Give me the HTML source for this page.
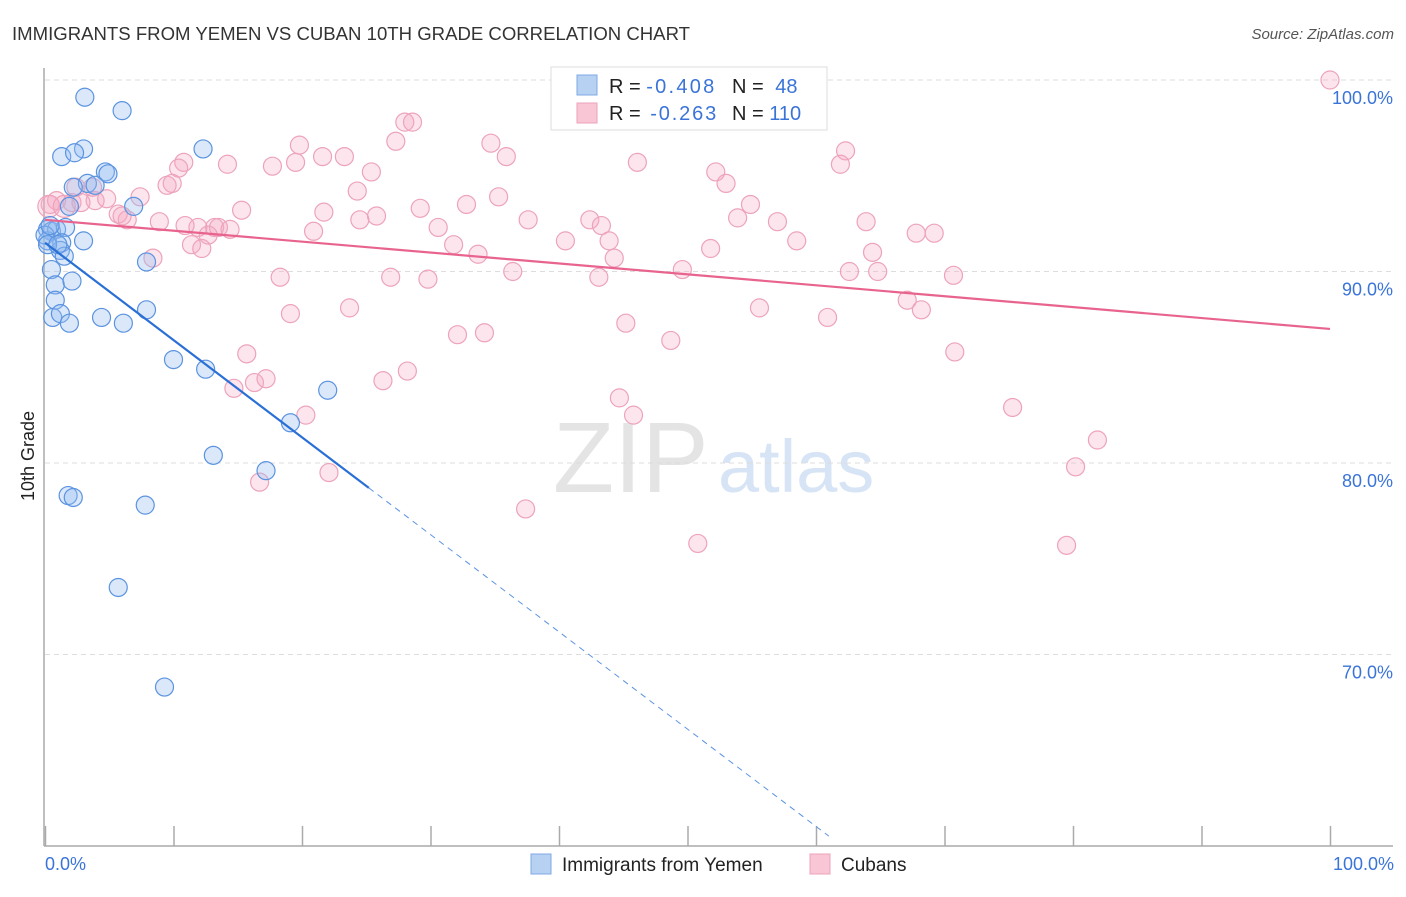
<!DOCTYPE html>
<html><head><meta charset="utf-8"><style>
body{margin:0;background:#fff;font-family:"Liberation Sans",sans-serif;}
svg text{font-family:"Liberation Sans",sans-serif;}
</style></head><body>
<svg id="chart" width="1406" height="892" viewBox="0 0 1406 892" xmlns="http://www.w3.org/2000/svg">
<text x="12" y="40" font-size="18" fill="#333" textLength="678" lengthAdjust="spacingAndGlyphs">IMMIGRANTS FROM YEMEN VS CUBAN 10TH GRADE CORRELATION CHART</text>
<text x="1394" y="39" font-size="15" fill="#555" font-style="italic" text-anchor="end">Source: ZipAtlas.com</text>
<text x="553" y="492" font-size="100" fill="#e4e4e4" font-family="Liberation Serif,serif">ZIP</text>
<text x="718" y="492" font-size="74" fill="#d6e4f5">atlas</text>
<g id="grid"></g>
<line x1="44" y1="68" x2="44" y2="846" stroke="#aaa" stroke-width="1.5"/>
<line x1="44" y1="846" x2="1393" y2="846" stroke="#aaa" stroke-width="1.5"/>
<text transform="translate(34,456) rotate(-90)" font-size="18" fill="#222" text-anchor="middle">10th Grade</text>
<text x="45" y="870" font-size="18" fill="#3a74d8">0.0%</text>
<text x="1394" y="870" font-size="18" fill="#3a74d8" text-anchor="end">100.0%</text>
<g id="pts"></g>
<g id="lines"></g>
<g>
<rect x="551" y="67" width="276" height="63" fill="#fff" stroke="#ddd"/>
<rect x="577" y="75" width="20" height="20" fill="#b7d1f3" stroke="#7fa9e4"/>
<rect x="577" y="103" width="20" height="20" fill="#f9c6d5" stroke="#eda3bb"/>
<text x="609" y="93" font-size="20" fill="#222">R = <tspan fill="#3a74d8" textLength="68">-0.408</tspan></text>
<text x="732" y="93" font-size="20" fill="#222">N = <tspan fill="#3a74d8" dx="6">48</tspan></text>
<text x="609" y="120" font-size="20" fill="#222">R = <tspan fill="#3a74d8" dx="4" textLength="66">-0.263</tspan></text>
<text x="732" y="120" font-size="20" fill="#222">N = <tspan fill="#3a74d8">110</tspan></text>
</g>
<g>
<rect x="531" y="854" width="20" height="20" fill="#b7d1f3" stroke="#7fa9e4"/>
<text x="562" y="871" font-size="19" fill="#222">Immigrants from Yemen</text>
<rect x="810" y="854" width="20" height="20" fill="#f9c6d5" stroke="#eda3bb"/>
<text x="841" y="871" font-size="19" fill="#222">Cubans</text>
</g>
</svg>
<script>
const yTicks=[100,90,80,70];
const yTickLabels=["100.0%","90.0%","80.0%","70.0%"];
const xTicks=[0,10,20,30,40,50,60,70,80,90,100];
const yemenX=[3.1,6.0,1.3,3.0,2.3,12.3,4.7,4.9,3.3,3.9,2.2,1.9,6.9,0.2,0.5,0.9,1.6,0.2,1.3,3.0,1.2,1.5,7.9,0.5,0.8,2.1,0.8,0.6,1.2,1.9,4.4,6.1,7.9,10.0,12.5,22.0,19.1,13.1,17.2,1.8,2.2,7.8,5.7,9.3,0,0.2,0.4,1.0];
const yemenY=[99.1,98.4,96.0,96.4,96.2,96.4,95.2,95.1,94.6,94.5,94.4,93.4,93.4,92.2,92.1,92.2,92.3,91.6,91.5,91.6,91.1,90.8,90.5,90.1,89.3,89.5,88.5,87.6,87.8,87.3,87.6,87.3,88.0,85.4,84.9,83.8,82.1,80.4,79.6,78.3,78.2,77.8,73.5,68.3,91.9,91.4,92.4,91.4];
const cubanX=[100,28.0,28.6,27.3,19.8,34.7,23.3,21.6,17.7,14.2,19.5,25.4,35.9,46.1,52.2,62.3,61.9,53.0,10.8,10.4,9.5,9.9,7.4,3.9,4.8,2.1,0.9,0.4,3.7,2.4,24.3,35.3,29.2,32.8,15.3,21.7,25.8,37.6,42.4,43.3,54.9,53.9,57.0,63.9,5.7,6.4,8.9,11.9,13.2,13.5,12.7,20.9,24.5,30.6,40.5,43.9,51.8,58.5,67.8,69.2,11.4,12.2,31.8,33.7,44.3,49.6,64.4,62.6,64.8,70.7,36.4,43.1,18.3,26.9,29.8,23.7,19.1,45.2,55.6,60.9,67.1,68.2,32.1,34.2,48.7,15.7,70.8,14.7,16.3,17.2,26.3,28.2,20.3,44.7,45.8,75.3,81.9,16.7,22.1,80.2,37.4,50.8,79.5,8.4,10.9,14.4,0.3,1.5,6.0,2.8];
const cubanY=[100,97.8,97.8,96.8,96.6,96.7,96.0,96.0,95.5,95.6,95.7,95.2,96.0,95.7,95.2,96.3,95.6,94.6,95.7,95.4,94.5,94.6,93.9,93.7,93.8,93.6,93.7,93.5,94.4,94.4,94.2,93.9,93.3,93.5,93.2,93.1,92.9,92.7,92.7,92.4,93.5,92.8,92.6,92.6,93.0,92.7,92.6,92.3,92.3,92.3,91.9,92.1,92.7,92.3,91.6,91.6,91.2,91.6,92.0,92.0,91.4,91.2,91.4,90.9,90.7,90.1,91.0,90.0,90.0,89.8,90.0,89.7,89.7,89.7,89.6,88.1,87.8,87.3,88.1,87.6,88.5,88.0,86.7,86.8,86.4,85.7,85.8,83.9,84.2,84.4,84.3,84.8,82.5,83.4,82.5,82.9,81.2,79.0,79.5,79.8,77.6,75.8,75.7,90.7,92.4,92.2,93.4,93.4,92.9,93.6];
const yemenTrend=[91.5,78.7];const yemenTrendX=[0,25.2];const yemenDashX=61.0;
const cubanTrend=[92.7,87.0];const cubanTrendX=[0,100];
const xs=v=>45+v*12.85, ys=v=>80+(100-v)*19.15;
const NS="http://www.w3.org/2000/svg";
function mk(tag,attrs,parent){const e=document.createElementNS(NS,tag);for(const k in attrs)e.setAttribute(k,attrs[k]);parent.appendChild(e);return e;}
const grid=document.getElementById('grid'),svg=document.getElementById('chart');
yTicks.forEach((t,i)=>{
 const l=mk('line',{x1:45,x2:1393,y1:ys(t),y2:ys(t),stroke:'#ddd','stroke-dasharray':'5,4'},grid);
 
 
 const tx=mk('text',{x:1393,y:ys(t)+24,'font-size':18,fill:'#3a74d8','text-anchor':'end'},grid);
 tx.textContent=yTickLabels[i];
 
 
});
xTicks.forEach(t=>{
 const l=mk('line',{x1:xs(t)+0.5,x2:xs(t)+0.5,y1:826,y2:846,stroke:'#aaa','stroke-width':1.5},grid);
 
 
});
const pts=document.getElementById('pts');
cubanX.forEach((x,i)=>{
 const c=mk('circle',{cx:xs(x),cy:ys(cubanY[i]),r:i>=106&&i<108?11:9,fill:'rgba(246,170,195,0.3)',stroke:'#eda3bb','stroke-width':1.2},pts);
 
 
});
yemenX.forEach((x,i)=>{
 const c=mk('circle',{cx:xs(x),cy:ys(yemenY[i]),r:9,fill:'rgba(150,190,240,0.35)',stroke:'#5b93e0','stroke-width':1.2},pts);
 
 
});
const lines=document.getElementById('lines');
const slope=(yemenTrend[1]-yemenTrend[0])/(yemenTrendX[1]-yemenTrendX[0]);
const l1=mk('line',{x1:xs(yemenTrendX[0]),y1:ys(yemenTrend[0]),x2:xs(yemenTrendX[1]),y2:ys(yemenTrend[1]),stroke:'#2a6fd6','stroke-width':2.2},lines);


const l2=mk('line',{x1:xs(yemenTrendX[1]),y1:ys(yemenTrend[1]),x2:xs(yemenDashX),y2:ys(yemenTrend[0]+slope*yemenDashX),stroke:'#5b93e0','stroke-width':1,'stroke-dasharray':'6,5'},lines);


const l3=mk('line',{x1:xs(cubanTrendX[0]),y1:ys(cubanTrend[0]),x2:xs(cubanTrendX[1]),y2:ys(cubanTrend[1]),stroke:'#e8648f','stroke-width':2.2},lines);


</script>
</body></html>
